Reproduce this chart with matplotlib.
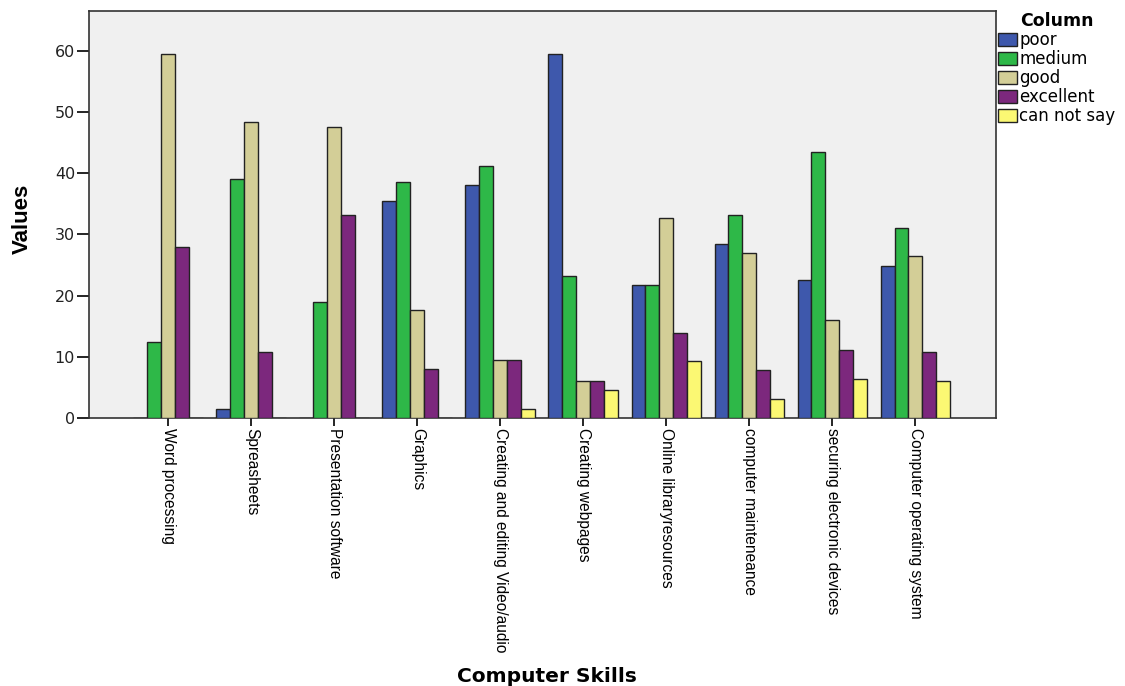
import numpy as np
import matplotlib.pyplot as plt

# DATA
skills = ["Word processing", "Spreasheets", "Presentation software", "Graphics",
          "Creating and editing Video/audio", "Creating webpages", "Online libraryresources",
          "computer mainteneance", "securing electronic devices", "Computer operating system"]
poor = [0, 1.5, 0, 35.5, 38.1, 59.4, 21.8, 28.5, 22.5, 24.9]
medium = [12.5, 39.1, 19.0, 38.6, 41.2, 23.3, 21.8, 33.2, 43.5, 31.1]
good = [59.4, 48.4, 47.5, 17.6, 9.5, 6.1, 32.7, 26.9, 16.0, 26.5]
excellent = [28.0, 10.9, 33.2, 8.0, 9.5, 6.1, 14.0, 7.9, 11.2, 10.9]
cannot_say = [0, 0, 0, 0, 1.5, 4.6, 9.3, 3.1, 6.4, 6.1]

series = {"poor": poor, "medium": medium, "good": good,
          "excellent": excellent, "can not say": cannot_say}
colors = ["#3E58AC", "#2EB848", "#D3CE97", "#7C287D", "#FBF873"]

plt.rcParams['font.family'] = ['Liberation Sans', 'DejaVu Sans']

fig = plt.figure(figsize=(11.25, 6.86), dpi=100)
ax = fig.add_axes([0.0791, 0.3902, 0.8062, 0.5942])
ax.set_facecolor("#F0F0F0")

x = np.arange(len(skills))
w = 0.168
for i, (name, vals) in enumerate(series.items()):
    ax.bar(x + (i - 2) * w, vals, width=w, color=colors[i], edgecolor="#222222",
           linewidth=1, label=name, zorder=3)

ax.set_xlim(-0.955, 9.97)
ax.set_ylim(0, 66.5)
ax.set_yticks([0, 10, 20, 30, 40, 50, 60])
ax.tick_params(axis='y', length=9, width=1.2, pad=1)
for lab in ax.get_yticklabels():
    lab.set_fontfamily('DejaVu Sans')
    lab.set_fontsize(11.5)
    lab.set_color("#222222")
ax.set_xticks(x)
ax.set_xticklabels(skills, rotation=270, ha='center', va='top', fontsize=11.2)
ax.tick_params(axis='x', length=6, width=1.2, pad=1)
for s in ax.spines.values():
    s.set_color("#333333")
    s.set_linewidth(1.2)

ax.set_ylabel("Values", fontsize=16, fontweight='bold')
ax.yaxis.set_label_coords(-0.0617, 0.49)
fig.text(547 / 1125, 1 - 676 / 686, "Computer Skills", fontsize=14.5, fontweight='bold',
         ha='center', va='center', family='DejaVu Sans')

leg = ax.legend(loc='upper left', bbox_to_anchor=(1.0, 1.0), frameon=False,
                title="Column", prop={'family': 'DejaVu Sans', 'size': 12},
                handlelength=1.15, handleheight=0.85, handletextpad=0.15,
                labelspacing=0.06, borderaxespad=0.0, borderpad=0.1)
leg.get_title().set_fontweight('bold')
leg.get_title().set_fontsize(12.5)
leg.get_title().set_fontfamily('DejaVu Sans')
leg._legend_box.align = "center"

fig.savefig("out.png", dpi=100)
